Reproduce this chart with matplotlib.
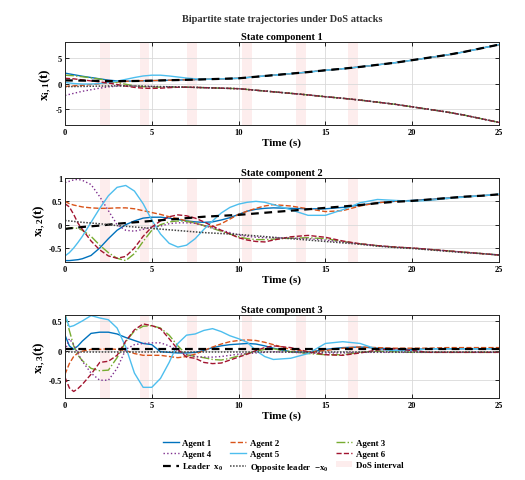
import matplotlib
matplotlib.use('Agg')
import matplotlib.pyplot as plt
from matplotlib.patches import Patch

plt.rcParams['font.family'] = ['Liberation Serif', 'DejaVu Serif']
plt.rcParams['font.weight'] = 'bold'
plt.rcParams['mathtext.fontset'] = 'custom'
plt.rcParams['mathtext.rm'] = 'Liberation Serif'
plt.rcParams['mathtext.bf'] = 'Liberation Serif:bold'
plt.rcParams['mathtext.it'] = 'Liberation Serif:italic:bold'

# sample times (s)
t = [0, 0.25, 0.5, 0.75, 1, 1.5, 2, 2.5, 3, 3.5, 4, 4.5, 5, 5.5, 6, 6.5, 7, 7.5, 8, 8.5,
     9, 9.5, 10, 10.5, 11, 11.5, 12, 13, 14, 15, 16, 17, 18, 19, 20, 21, 22, 23, 24, 25]

# DoS attack intervals
dos_start = [2.0, 4.3, 7.0, 10.2, 13.3, 16.3]
dos_end = [2.6, 4.85, 7.6, 10.8, 13.9, 16.9]

# ---- state component 1
leader_1 = [0.60, 0.59, 0.58, 0.57, 0.56, 0.53, 0.50, 0.47, 0.45, 0.46, 0.48, 0.51, 0.55, 0.59, 0.63, 0.67, 0.71, 0.75, 0.80, 0.85,
            0.90, 0.95, 1.00, 1.15, 1.30, 1.45, 1.60, 1.90, 2.20, 2.55, 2.85, 3.20, 3.60, 4.00, 4.50, 5.00, 5.50, 6.10, 6.80, 7.50]
opp_1 = [-0.60, -0.59, -0.58, -0.57, -0.56, -0.53, -0.50, -0.47, -0.45, -0.46, -0.48, -0.51, -0.55, -0.59, -0.63, -0.67, -0.71, -0.75, -0.80, -0.85,
         -0.90, -0.95, -1.00, -1.15, -1.30, -1.45, -1.60, -1.90, -2.20, -2.55, -2.85, -3.20, -3.60, -4.00, -4.50, -5.00, -5.50, -6.10, -6.80, -7.50]
agent1_1 = [2.00, 1.85, 1.70, 1.55, 1.40, 1.15, 0.90, 0.65, 0.50, 0.45, 0.48, 0.51, 0.55, 0.59, 0.63, 0.67, 0.71, 0.75, 0.80, 0.85,
            0.90, 0.95, 1.00, 1.15, 1.30, 1.45, 1.60, 1.90, 2.20, 2.55, 2.85, 3.20, 3.60, 4.00, 4.50, 5.00, 5.50, 6.10, 6.80, 7.50]
agent2_1 = [-0.60, -0.50, -0.45, -0.40, -0.35, -0.20, -0.05, 0.15, 0.30, 0.42, 0.50, 0.53, 0.56, 0.60, 0.64, 0.68, 0.72, 0.76, 0.81, 0.86,
            0.90, 0.95, 1.00, 1.15, 1.30, 1.45, 1.60, 1.90, 2.20, 2.55, 2.85, 3.20, 3.60, 4.00, 4.50, 5.00, 5.50, 6.10, 6.80, 7.50]
agent3_1 = [1.60, 1.55, 1.50, 1.40, 1.30, 1.10, 0.85, 0.55, 0.20, -0.15, -0.45, -0.60, -0.70, -0.70, -0.68, -0.69, -0.71, -0.75, -0.80, -0.85,
            -0.90, -0.95, -1.00, -1.15, -1.30, -1.45, -1.60, -1.90, -2.20, -2.55, -2.85, -3.20, -3.60, -4.00, -4.50, -5.00, -5.50, -6.10, -6.80, -7.50]
agent4_1 = [-2.30, -2.10, -1.90, -1.70, -1.50, -1.20, -0.90, -0.65, -0.50, -0.45, -0.50, -0.55, -0.60, -0.62, -0.63, -0.67, -0.71, -0.75, -0.80, -0.85,
            -0.90, -0.95, -1.00, -1.15, -1.30, -1.45, -1.60, -1.90, -2.20, -2.55, -2.85, -3.20, -3.60, -4.00, -4.50, -5.00, -5.50, -6.10, -6.80, -7.50]
agent5_1 = [0.20, 0.10, 0.00, -0.05, -0.10, -0.10, 0.00, 0.20, 0.45, 0.80, 1.15, 1.45, 1.60, 1.60, 1.45, 1.25, 1.05, 0.90, 0.82, 0.85,
            0.90, 0.95, 1.00, 1.15, 1.30, 1.45, 1.60, 1.90, 2.20, 2.55, 2.85, 3.20, 3.60, 4.00, 4.50, 5.00, 5.50, 6.10, 6.80, 7.50]
agent6_1 = [1.00, 0.95, 0.90, 0.80, 0.70, 0.50, 0.30, 0.10, -0.20, -0.50, -0.75, -0.90, -0.95, -0.90, -0.80, -0.72, -0.72, -0.75, -0.80, -0.85,
            -0.90, -0.95, -1.00, -1.15, -1.30, -1.45, -1.60, -1.90, -2.20, -2.55, -2.85, -3.20, -3.60, -4.00, -4.50, -5.00, -5.50, -6.10, -6.80, -7.50]

# ---- state component 2
leader_2 = [-0.09, -0.08, -0.07, -0.06, -0.05, -0.035, -0.02, 0.00, 0.02, 0.035, 0.05, 0.065, 0.08, 0.095, 0.11, 0.125, 0.14, 0.155, 0.17, 0.18,
            0.19, 0.20, 0.21, 0.225, 0.24, 0.255, 0.27, 0.30, 0.33, 0.36, 0.39, 0.42, 0.46, 0.49, 0.51, 0.54, 0.57, 0.60, 0.62, 0.65]
opp_2 = [0.09, 0.08, 0.07, 0.06, 0.05, 0.035, 0.02, 0.00, -0.02, -0.035, -0.05, -0.065, -0.08, -0.095, -0.11, -0.125, -0.14, -0.155, -0.17, -0.18,
         -0.19, -0.20, -0.21, -0.225, -0.24, -0.255, -0.27, -0.30, -0.33, -0.36, -0.39, -0.42, -0.46, -0.49, -0.51, -0.54, -0.57, -0.60, -0.62, -0.65]
agent1_2 = [-0.77, -0.77, -0.76, -0.75, -0.73, -0.66, -0.50, -0.30, -0.12, 0.00, 0.08, 0.14, 0.16, 0.16, 0.14, 0.11, 0.08, 0.06, 0.05, 0.06,
            0.10, 0.15, 0.22, 0.29, 0.33, 0.35, 0.36, 0.35, 0.34, 0.34, 0.37, 0.42, 0.47, 0.50, 0.52, 0.54, 0.57, 0.60, 0.62, 0.65]
agent2_2 = [0.50, 0.45, 0.42, 0.40, 0.38, 0.36, 0.35, 0.35, 0.36, 0.36, 0.34, 0.30, 0.26, 0.22, 0.17, 0.13, 0.08, 0.03, -0.02, -0.04,
            0.02, 0.12, 0.22, 0.29, 0.35, 0.40, 0.43, 0.40, 0.34, 0.28, 0.30, 0.40, 0.47, 0.50, 0.51, 0.53, 0.56, 0.59, 0.62, 0.64]
agent3_2 = [-0.10, -0.07, -0.07, -0.08, -0.12, -0.25, -0.44, -0.60, -0.72, -0.77, -0.62, -0.36, -0.12, 0.00, 0.06, 0.08, 0.07, 0.04, -0.02, -0.08,
            -0.14, -0.20, -0.26, -0.30, -0.32, -0.32, -0.31, -0.29, -0.28, -0.30, -0.36, -0.41, -0.45, -0.48, -0.50, -0.53, -0.56, -0.59, -0.62, -0.65]
agent4_2 = [0.90, 0.93, 0.96, 0.97, 0.95, 0.86, 0.60, 0.30, 0.00, -0.12, -0.14, -0.10, -0.05, -0.03, 0.02, 0.04, 0.04, 0.03, -0.02, -0.07,
            -0.12, -0.17, -0.22, -0.25, -0.27, -0.28, -0.28, -0.29, -0.30, -0.33, -0.37, -0.41, -0.45, -0.48, -0.50, -0.53, -0.56, -0.59, -0.62, -0.65]
agent5_2 = [-0.67, -0.60, -0.50, -0.38, -0.25, 0.05, 0.35, 0.62, 0.80, 0.84, 0.72, 0.45, 0.10, -0.20, -0.40, -0.48, -0.44, -0.30, -0.10, 0.08,
            0.25, 0.37, 0.44, 0.48, 0.50, 0.48, 0.43, 0.32, 0.20, 0.20, 0.32, 0.47, 0.54, 0.52, 0.50, 0.52, 0.56, 0.59, 0.62, 0.65]
agent6_2 = [0.45, 0.38, 0.22, 0.03, -0.10, -0.35, -0.54, -0.67, -0.72, -0.68, -0.50, -0.25, -0.05, 0.08, 0.17, 0.21, 0.19, 0.14, 0.06, -0.03,
            -0.12, -0.20, -0.28, -0.33, -0.36, -0.37, -0.33, -0.26, -0.23, -0.27, -0.35, -0.41, -0.45, -0.48, -0.50, -0.53, -0.56, -0.59, -0.62, -0.65]

# ---- state component 3
leader_3 = [0.03] * 40
opp_3 = [-0.03] * 40
agent1_3 = [0.26, 0.08, 0.02, 0.08, 0.16, 0.29, 0.31, 0.31, 0.28, 0.22, 0.17, 0.12, 0.10, -0.02, -0.03, -0.04, -0.04, -0.03, 0.00, 0.05,
            0.08, 0.10, 0.11, 0.12, 0.11, 0.08, 0.04, -0.02, -0.03, 0.02, 0.05, 0.06, 0.04, 0.03, 0.02, 0.03, 0.03, 0.03, 0.03, 0.03]
agent2_3 = [-0.40, -0.22, -0.10, -0.04, -0.01, 0.02, 0.02, 0.03, 0.02, 0.00, -0.05, -0.08, -0.08, -0.08, -0.10, -0.12, -0.10, -0.06, 0.00, 0.06,
            0.11, 0.15, 0.17, 0.18, 0.17, 0.14, 0.10, 0.02, -0.02, 0.00, 0.04, 0.06, 0.05, 0.04, 0.04, 0.04, 0.05, 0.05, 0.05, 0.05]
agent3_3 = [0.62, 0.34, 0.08, -0.08, -0.17, -0.30, -0.34, -0.33, -0.12, 0.15, 0.33, 0.41, 0.42, 0.38, 0.26, 0.08, -0.07, -0.10, -0.12, -0.15,
            -0.16, -0.13, -0.09, -0.05, -0.01, 0.02, 0.03, -0.02, -0.05, -0.07, -0.07, -0.03, -0.01, -0.02, -0.03, -0.03, -0.03, -0.03, -0.03, -0.03]
agent4_3 = [0.00, 0.20, 0.10, -0.05, -0.18, -0.38, -0.50, -0.50, -0.30, 0.02, 0.10, 0.12, 0.13, 0.13, 0.08, 0.00, -0.07, -0.10, -0.11, -0.11,
            -0.10, -0.08, -0.06, -0.05, -0.04, -0.03, -0.02, -0.03, -0.04, -0.04, -0.04, -0.03, -0.03, -0.03, -0.03, -0.03, -0.03, -0.03, -0.03, -0.03]
agent5_3 = [0.60, 0.40, 0.42, 0.46, 0.50, 0.59, 0.55, 0.52, 0.38, 0.06, -0.38, -0.62, -0.62, -0.47, -0.20, 0.12, 0.26, 0.28, 0.34, 0.37,
            0.32, 0.25, 0.20, 0.14, 0.00, -0.10, -0.15, -0.13, -0.05, 0.12, 0.15, 0.12, 0.02, 0.00, 0.00, 0.03, 0.03, 0.03, 0.03, 0.03]
agent6_3 = [-0.45, -0.63, -0.69, -0.64, -0.57, -0.40, -0.20, -0.18, -0.08, 0.16, 0.35, 0.45, 0.42, 0.37, 0.20, 0.02, -0.11, -0.13, -0.20, -0.22,
            -0.21, -0.16, -0.11, -0.06, 0.00, 0.05, 0.08, 0.05, -0.02, -0.07, -0.08, -0.04, 0.01, 0.03, 0.00, -0.03, -0.03, -0.03, -0.03, -0.03]

panels = [
    ([agent1_1, agent2_1, agent3_1, agent4_1, agent5_1, agent6_1], leader_1, opp_1),
    ([agent1_2, agent2_2, agent3_2, agent4_2, agent5_2, agent6_2], leader_2, opp_2),
    ([agent1_3, agent2_3, agent3_3, agent4_3, agent5_3, agent6_3], leader_3, opp_3),
]
ylims = [(-8, 8), (-0.8, 1), (-0.8, 0.6)]
yticks = [[-5, 0, 5], [-0.5, 0, 0.5, 1], [-0.5, 0, 0.5]]
ytick_labels = [['-5', '0', '5'], ['-0.5', '0', '0.5', '1'], ['-0.5', '0', '0.5']]

colors = ['#0072BD', '#D95319', '#77AC30', '#7E2F8E', '#4DBEEE', '#A2142F']
styles = ['-', '--', '-.', ':', '-', '--']
names = ['Agent 1', 'Agent 2', 'Agent 3', 'Agent 4', 'Agent 5', 'Agent 6']
dos_color = '#fdeded'

fig = plt.figure(figsize=(5.25, 4.81), dpi=100)
fig.text(282 / 525, 1 - 19 / 481, 'Bipartite state trajectories under DoS attacks',
         ha='center', va='center', fontsize=7.5, fontweight='bold', color='#333333')

boxes = [(43, 126), (179, 263), (316, 399)]
handles = []
for k in range(3):
    top, bot = boxes[k]
    ax = fig.add_axes([65 / 525, 1 - bot / 481, 434 / 525, (bot - top) / 481])
    agents, lead, opp = panels[k]
    for a, b in zip(dos_start, dos_end):
        ax.axvspan(a, b, color=dos_color, lw=0, zorder=0)
    hs = []
    for i in range(6):
        h, = ax.plot(t, agents[i], color=colors[i], ls=styles[i], lw=1.0, label=names[i])
        hs.append(h)
    hl, = ax.plot(t, lead, color='black', ls=(0, (3.5, 2.5)), lw=1.6, label='Leader  $\\mathbf{x_0}$')
    ho, = ax.plot(t, opp, color='#444444', ls=(0, (1, 1)), lw=1.1, label='Opposite leader  $\\mathbf{-x_0}$')
    if k == 2:
        handles = hs + [hl, ho]
    ax.set_xlim(0, 25)
    ax.set_ylim(*ylims[k])
    ax.set_xticks([0, 5, 10, 15, 20, 25])
    ax.set_yticks(yticks[k])
    ax.set_yticklabels(ytick_labels[k])
    ax.grid(True, color='#d9d9d9', lw=0.6)
    ax.tick_params(direction='in', top=True, right=True, labelsize=6, length=3, width=0.6, pad=2)
    for lab in ax.get_xticklabels() + ax.get_yticklabels():
        lab.set_fontweight('bold')
    for s in ax.spines.values():
        s.set_color('#262626')
        s.set_linewidth(0.7)
    ax.set_title('State component %d' % (k + 1), fontsize=7.5, fontweight='bold', pad=2)
    ax.set_xlabel('Time (s)', fontsize=8, fontweight='bold', labelpad=1)
    ax.set_ylabel('$\\mathbf{x_{i,%d}(t)}$' % (k + 1), fontsize=9.5, labelpad=1)

dos_patch = Patch(facecolor=dos_color, edgecolor='none', label='DoS interval')
order = [handles[0], handles[3], handles[6],
         handles[1], handles[4], handles[7],
         handles[2], handles[5], dos_patch]
fig.legend(handles=order, labels=[h.get_label() for h in order], ncol=3,
           loc='upper center', bbox_to_anchor=(283 / 525, 1 - 439 / 481),
           frameon=False, fontsize=6.4, handlelength=1.8, columnspacing=0.8,
           labelspacing=0.3, handletextpad=0.4, borderaxespad=0, borderpad=0.1)

fig.savefig('out.png', dpi=100)
